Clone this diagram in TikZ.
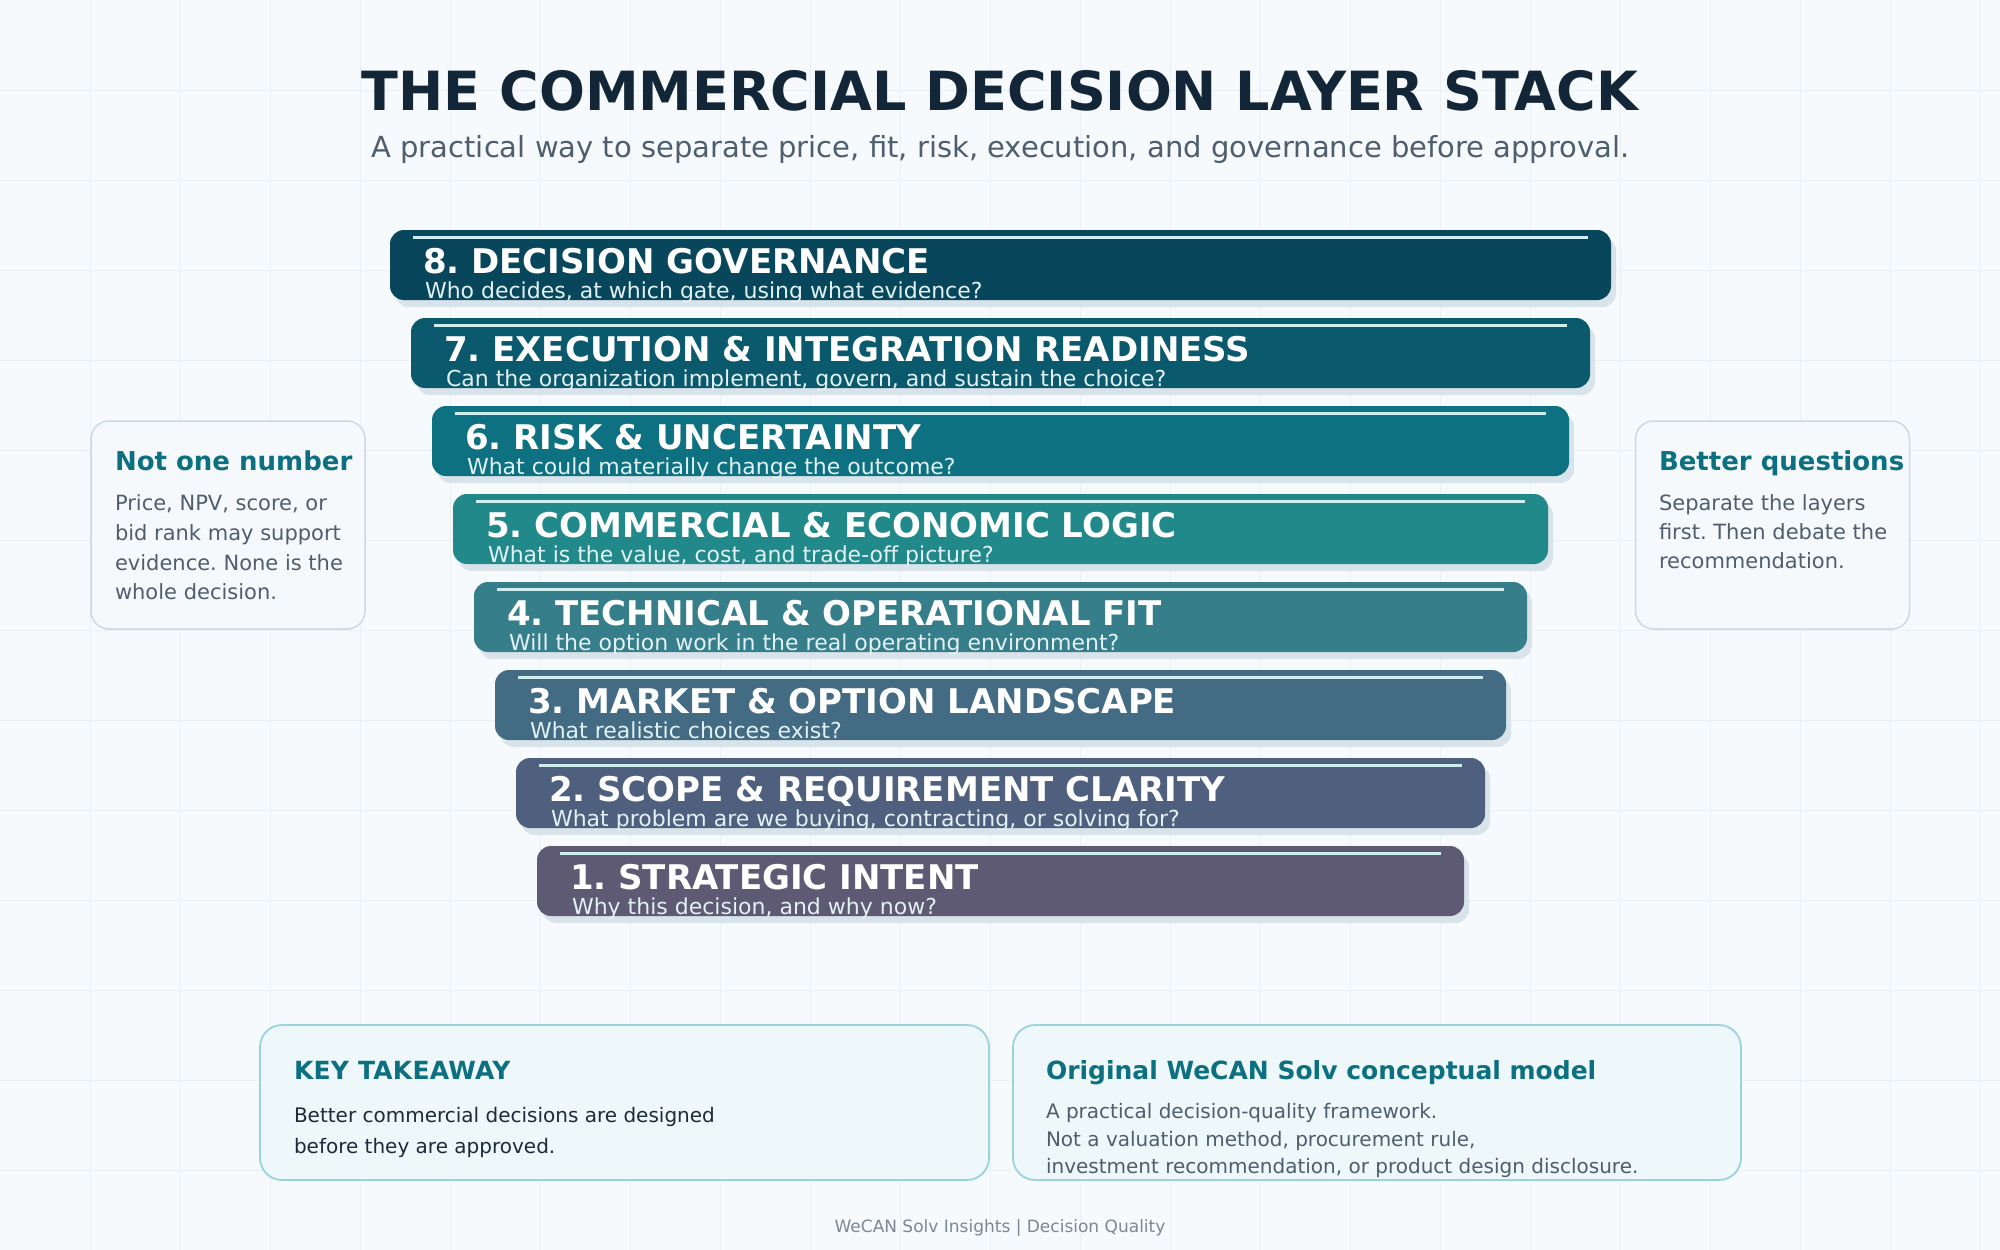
\documentclass[tikz,border=0pt]{standalone}
\usepackage{fontspec}
\setmainfont{DejaVu Sans}
\frenchspacing
\definecolor{bgc}{HTML}{F7FAFC}
\definecolor{gridc}{HTML}{E9EFF3}
\definecolor{titlec}{HTML}{132638}
\definecolor{subc}{HTML}{4E5E6E}
\definecolor{tealh}{HTML}{0C7080}
\definecolor{darktext}{HTML}{1C2B3A}
\definecolor{footc}{HTML}{7A8794}
\definecolor{shadowc}{HTML}{D8E3EA}
\definecolor{hilite}{HTML}{CFEEF0}
\definecolor{subw}{HTML}{E2F1F4}
\definecolor{sideborder}{HTML}{C9DAE3}
\definecolor{sidefill}{HTML}{F6F9FC}
\definecolor{botborder}{HTML}{9BD3DC}
\definecolor{botfill}{HTML}{EEF7FA}
\definecolor{L8}{HTML}{08475B}
\definecolor{L7}{HTML}{0B596C}
\definecolor{L6}{HTML}{0D7182}
\definecolor{L5}{HTML}{22898B}
\definecolor{L4}{HTML}{367F8A}
\definecolor{L3}{HTML}{436C84}
\definecolor{L2}{HTML}{4E607E}
\definecolor{L1}{HTML}{5E5A73}
\newcommand\fsz[2]{\fontsize{#1}{#2}\selectfont}
\tikzset{
  txt/.style={inner sep=0pt, outer sep=0pt, anchor=base west},
  barbox/.style={draw=none, rounded corners=14pt, inner sep=0pt, minimum height=70pt},
  sidebox/.style={draw=sideborder, fill=sidefill, line width=1.5pt, rounded corners=18pt, inner sep=0pt, minimum width=274pt, minimum height=208pt},
  botbox/.style={draw=botborder, fill=botfill, line width=1.8pt, rounded corners=22pt, inner sep=0pt, minimum height=155pt},
  bartitle/.style={txt, text=white, font=\fsz{34}{40}\bfseries},
  barsub/.style={txt, text=subw, font=\fsz{22}{26}},
  sidetitle/.style={txt, text=tealh, font=\fsz{26}{30}\bfseries},
  sidetext/.style={txt, text=subc, font=\fsz{21}{30}},
  bottitle/.style={txt, text=tealh, font=\fsz{25}{30}\bfseries},
  gridline/.style={gridc, line width=1pt},
}
\begin{document}
\begin{tikzpicture}[x=1pt, y=-1pt]
\useasboundingbox (0,0) rectangle (2000,1250);
\fill[bgc] (0,0) rectangle (2000,1250);
\foreach \gx in {90,180,...,1980} {\draw[gridline] (\gx,0) -- (\gx,1250);}
\foreach \gy in {90,180,...,1170} {\draw[gridline] (0,\gy) -- (2000,\gy);}

% title
\node[inner sep=0pt, anchor=base, text=titlec, font=\fsz{54}{60}\bfseries] (title) at (1000,110) {THE COMMERCIAL DECISION LAYER STACK};
\node[inner sep=0pt, anchor=base, text=subc, font=\fsz{29}{32}] (subtitle) at (1000.5,157) {A practical way to separate price, fit, risk, execution, and governance before approval.};

% layers
\foreach \i/\ti/\su in {
  8/{8. DECISION GOVERNANCE}/{Who decides, at which gate, using what evidence?},
  7/{7. EXECUTION \& INTEGRATION READINESS}/{Can the organization implement, govern, and sustain the choice?},
  6/{6. RISK \& UNCERTAINTY}/{What could materially change the outcome?},
  5/{5. COMMERCIAL \& ECONOMIC LOGIC}/{What is the value, cost, and trade-off picture?},
  4/{4. TECHNICAL \& OPERATIONAL FIT}/{Will the option work in the real operating environment?},
  3/{3. MARKET \& OPTION LANDSCAPE}/{What realistic choices exist?},
  2/{2. SCOPE \& REQUIREMENT CLARITY}/{What problem are we buying, contracting, or solving for?},
  1/{1. STRATEGIC INTENT}/{Why this decision, and why now?}}{
  \pgfmathsetmacro\k{8-\i}
  \pgfmathsetmacro\lx{390+21*\k}
  \pgfmathsetmacro\rx{1611-21*\k}
  \pgfmathsetmacro\ty{230+88*\k}
  \pgfmathsetmacro\bw{\rx-\lx}
  \node[barbox, fill=shadowc, minimum width=\bw pt] (shadow\i) at ({(\lx+\rx)/2+5},{\ty+35+7}) {};
  \node[barbox, fill=L\i, minimum width=\bw pt] (bar\i) at ({(\lx+\rx)/2},{\ty+35}) {};
  \draw[hilite, line width=3pt] (\lx+23,\ty+7) -- (\rx-23,\ty+7);
  \node[bartitle] (bt\i) at (\lx+33,\ty+43) {\ti};
  \node[barsub] (bs\i) at (\lx+35,\ty+68.5) {\su};
}

% side boxes
\node[sidebox] (leftbox) at (228,525) {};
\node[sidetitle] (lt) at (115,470) {Not one number};
\node[sidetext] (l1) at (115,510) {Price, NPV, score, or};
\node[sidetext] (l2) at (115,540) {bid rank may support};
\node[sidetext] (l3) at (115,570) {evidence. None is the};
\node[sidetext] (l4) at (115,599) {whole decision.};

\node[sidebox] (rightbox) at (1772.5,525) {};
\node[sidetitle] (rt) at (1659,470) {Better questions};
\node[sidetext] (r1) at (1659,510) {Separate the layers};
\node[sidetext] (r2) at (1659,539) {first. Then debate the};
\node[sidetext] (r3) at (1659,568) {recommendation.};

% bottom boxes
\node[botbox, minimum width=729pt] (keybox) at (624.5,1102.5) {};
\node[bottitle] (kt) at (294,1079) {\addfontfeatures{LetterSpace=1}KEY TAKEAWAY};
\node[txt, text=darktext, font=\fsz{20}{30}] (k1) at (294,1122) {Better commercial decisions are designed};
\node[txt, text=darktext, font=\fsz{20}{30}] (k2) at (294,1153) {before they are approved.};

\node[botbox, minimum width=728pt] (origbox) at (1377,1102.5) {};
\node[bottitle] (ot) at (1046,1079) {Original WeCAN Solv conceptual model};
\node[txt, text=subc, font=\fsz{20}{30}] (o1) at (1046,1118) {A practical decision-quality framework.};
\node[txt, text=subc, font=\fsz{20}{30}] (o2) at (1046,1146) {Not a valuation method, procurement rule,};
\node[txt, text=subc, font=\fsz{20}{30}] (o3) at (1046,1173) {investment recommendation, or product design disclosure.};

% footer
\node[inner sep=0pt, anchor=base, text=footc, font=\fsz{17}{20}] (footer) at (1000,1232) {WeCAN Solv Insights | Decision Quality};
\end{tikzpicture}
\end{document}
